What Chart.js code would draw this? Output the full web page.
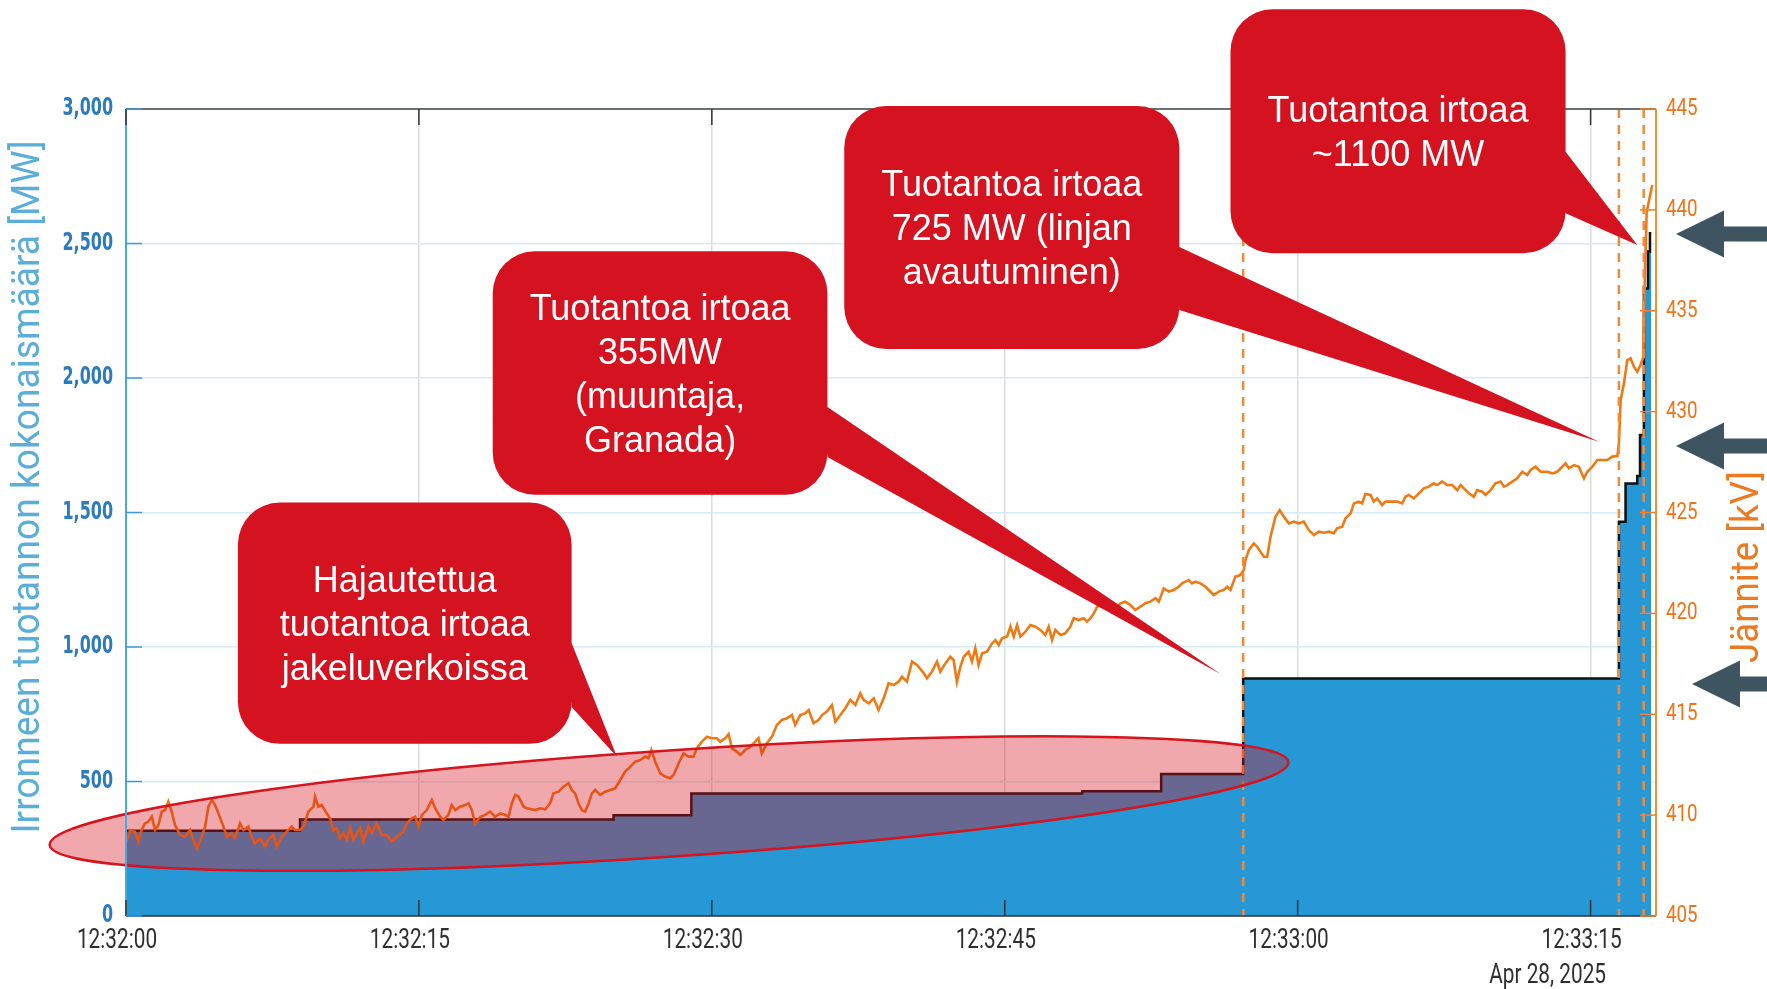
<!DOCTYPE html>
<html>
<head>
<meta charset="utf-8">
<script src="https://cdn.jsdelivr.net/npm/chart.js@4.4.1/dist/chart.umd.min.js"></script>
<style>
html, body { margin: 0; padding: 0; background: #fff; }
#wrap { width: 1767px; height: 989px; position: relative; }
</style>
</head>
<body>
<div id="wrap"><canvas id="c"></canvas></div>
<script>
// seconds after 12:32:00
const xTicks = [0, 15, 30, 45, 60, 75]
const dateLabel = 'Apr 28, 2025'

// total disconnected generation (MW), value holds from each time onwards
const stepTimes = [0, 8.91, 24.97, 28.95, 48.97, 53.01, 57.21, 76.45, 76.79, 77.39, 77.53, 77.73, 77.94, 78.04, 78.11]
const stepMW = [317, 359, 375, 455, 464, 528, 883, 1466, 1608, 1636, 1788, 2333, 2470, 2538, 2538]

// 400 kV voltage (kV)
const voltTimes = [
  0.03, 0.21, 0.46, 0.63, 0.80, 0.97, 1.15, 1.32, 1.49, 1.66, 1.83, 2.00, 2.17, 2.34, 2.51, 2.77, 3.02, 3.28, 3.45, 3.62,
  3.88, 4.05, 4.22, 4.39, 4.56, 4.73, 4.99, 5.16, 5.41, 5.58, 5.84, 6.01, 6.27, 6.44, 6.61, 6.87, 7.12, 7.29, 7.55, 7.72,
  7.98, 8.23, 8.49, 8.66, 8.91, 9.09, 9.34, 9.60, 9.68, 9.85, 10.02, 10.28, 10.45, 10.62, 10.79, 10.96, 11.13, 11.31, 11.48, 11.65,
  11.82, 11.99, 12.16, 12.42, 12.59, 12.84, 13.10, 13.35, 13.61, 13.87, 14.21, 14.38, 14.64, 14.81, 14.98, 15.15, 15.40, 15.66, 15.83, 16.09,
  16.26, 16.51, 16.68, 16.86, 17.11, 17.37, 17.54, 17.71, 17.88, 18.14, 18.39, 18.65, 18.90, 19.16, 19.42, 19.59, 19.76, 19.93, 20.10, 20.36,
  20.53, 20.95, 21.21, 21.47, 21.72, 21.89, 22.15, 22.40, 22.66, 22.83, 23.00, 23.17, 23.34, 23.51, 23.69, 23.86, 24.03, 24.28, 24.54, 24.80,
  25.05, 25.31, 25.56, 25.82, 26.08, 26.33, 26.59, 26.76, 26.90, 27.10, 27.36, 27.61, 27.87, 28.04, 28.30, 28.55, 28.81, 29.06, 29.23, 29.49,
  29.75, 30.00, 30.26, 30.43, 30.69, 30.86, 31.03, 31.28, 31.45, 31.71, 31.97, 32.22, 32.39, 32.56, 32.82, 33.08, 33.33, 33.59, 33.85, 34.10,
  34.27, 34.53, 34.79, 34.96, 35.21, 35.47, 35.64, 35.89, 36.15, 36.32, 36.58, 36.83, 37.09, 37.35, 37.60, 37.77, 38.03, 38.29, 38.54, 38.80,
  39.05, 39.31, 39.57, 39.74, 39.99, 40.25, 40.51, 40.85, 41.02, 41.27, 41.53, 41.70, 41.96, 42.21, 42.38, 42.55, 42.73, 42.90, 43.15, 43.32,
  43.49, 43.66, 43.84, 44.09, 44.35, 44.52, 44.69, 44.86, 45.12, 45.29, 45.46, 45.63, 45.80, 46.06, 46.31, 46.57, 46.82, 47.08, 47.25, 47.42,
  47.59, 47.85, 48.10, 48.36, 48.53, 48.79, 49.04, 49.21, 49.39, 49.56, 49.73, 49.98, 50.15, 50.41, 50.67, 50.92, 51.18, 51.43, 51.69, 51.95,
  52.20, 52.46, 52.72, 52.89, 53.14, 53.40, 53.65, 53.91, 54.08, 54.25, 54.42, 54.59, 54.76, 55.02, 55.28, 55.45, 55.70, 55.96, 56.22, 56.39,
  56.56, 56.81, 57.07, 57.24, 57.33, 57.50, 57.75, 57.92, 58.09, 58.27, 58.44, 58.61, 58.86, 59.08, 59.29, 59.55, 59.80, 60.06, 60.31, 60.57,
  60.83, 61.08, 61.34, 61.60, 61.85, 62.02, 62.28, 62.45, 62.71, 62.88, 63.13, 63.30, 63.47, 63.73, 63.90, 64.07, 64.33, 64.50, 64.75, 65.10,
  65.35, 65.52, 65.69, 65.95, 66.21, 66.46, 66.72, 66.97, 67.14, 67.40, 67.66, 67.91, 68.17, 68.34, 68.51, 68.77, 69.02, 69.19, 69.45, 69.62,
  69.88, 70.13, 70.39, 70.56, 70.73, 70.99, 71.24, 71.50, 71.76, 71.93, 72.18, 72.44, 72.78, 73.04, 73.29, 73.55, 73.72, 73.89, 74.15, 74.40,
  74.66, 74.83, 75.09, 75.34, 75.60, 75.85, 76.11, 76.37, 76.45, 76.54, 76.71, 76.88, 77.05, 77.22, 77.39, 77.56, 77.70, 77.77, 77.87, 77.95,
  78.16
]
const voltKV = [
  408.69, 409.26, 409.18, 408.69, 409.26, 409.59, 409.68, 409.92, 409.26, 409.51, 410.17, 410.25, 410.67, 410.17, 409.51, 409.02, 408.93, 409.26, 408.77, 408.35,
  408.93, 409.43, 410.42, 410.75, 410.50, 410.09, 409.43, 408.93, 409.10, 408.85, 409.59, 409.26, 409.43, 408.93, 408.60, 408.85, 408.44, 408.77, 409.02, 408.44,
  408.93, 409.18, 409.43, 409.26, 409.26, 409.43, 410.17, 410.42, 410.92, 410.42, 410.50, 410.09, 409.84, 409.26, 409.35, 408.85, 409.10, 408.77, 409.35, 408.77,
  409.10, 409.35, 408.69, 409.43, 409.10, 409.59, 409.02, 409.02, 408.69, 408.93, 409.18, 409.59, 409.84, 409.92, 409.43, 410.01, 410.25, 410.75, 410.34, 409.92,
  409.76, 410.01, 410.50, 410.25, 410.42, 410.50, 410.59, 410.25, 409.59, 409.92, 410.01, 410.17, 409.92, 410.09, 410.01, 409.92, 410.59, 411.00, 410.92, 410.42,
  410.34, 410.25, 410.34, 410.29, 410.59, 411.08, 411.16, 411.41, 411.58, 411.25, 411.08, 410.59, 410.25, 410.17, 410.59, 411.08, 411.25, 411.00, 411.16, 411.25,
  411.33, 411.74, 412.16, 412.40, 412.65, 412.73, 412.90, 412.82, 413.23, 412.65, 412.07, 411.91, 411.83, 411.99, 412.57, 413.06, 412.90, 412.90, 413.31, 413.64,
  413.89, 413.81, 413.81, 413.64, 413.81, 414.01, 413.31, 413.15, 412.98, 413.23, 413.39, 413.64, 413.81, 413.06, 413.56, 413.89, 414.47, 414.72, 414.80, 414.96,
  414.47, 414.96, 415.05, 415.21, 414.55, 414.72, 414.96, 415.13, 415.46, 414.63, 414.96, 415.29, 415.71, 415.46, 416.04, 415.71, 415.54, 415.79, 415.21, 415.79,
  416.53, 416.45, 416.62, 416.86, 416.62, 417.61, 417.44, 417.03, 416.78, 417.11, 417.61, 417.11, 417.52, 417.85, 417.69, 416.61, 417.36, 417.85, 418.10, 417.61,
  418.27, 417.44, 418.02, 418.10, 418.51, 418.68, 418.43, 418.76, 418.85, 419.34, 418.85, 419.42, 418.85, 419.09, 419.42, 419.34, 419.18, 418.93, 419.34, 418.68,
  419.18, 418.93, 419.01, 419.34, 419.76, 419.67, 419.76, 419.59, 419.76, 420.00, 420.33, 420.50, 420.33, 420.41, 420.25, 420.50, 420.58, 420.41, 420.17, 420.33,
  420.50, 420.58, 420.75, 420.58, 421.24, 421.08, 421.16, 421.32, 421.49, 421.57, 421.65, 421.49, 421.57, 421.49, 421.32, 421.16, 420.91, 421.08, 421.16, 421.32,
  421.16, 421.82, 421.90, 422.15, 422.65, 423.14, 423.47, 423.31, 423.06, 422.81, 422.81, 423.80, 424.79, 425.12, 424.79, 424.46, 424.55, 424.46, 424.55, 424.13,
  423.88, 424.05, 424.00, 424.05, 423.97, 424.22, 424.30, 424.71, 424.96, 425.45, 425.54, 425.45, 425.92, 425.87, 425.54, 425.70, 425.37, 425.54, 425.54, 425.54,
  425.45, 425.78, 425.87, 425.70, 425.95, 426.20, 426.28, 426.45, 426.36, 426.53, 426.36, 426.36, 426.11, 426.36, 426.20, 425.95, 425.78, 426.11, 426.03, 425.87,
  426.11, 426.45, 426.53, 426.28, 426.36, 426.53, 426.69, 427.02, 426.86, 427.11, 427.27, 427.02, 427.02, 426.94, 427.02, 427.27, 427.44, 427.19, 427.35, 427.27,
  426.69, 427.02, 427.27, 427.60, 427.60, 427.60, 427.77, 427.80, 428.43, 430.58, 431.40, 432.55, 432.64, 432.23, 431.98, 432.31, 432.70, 436.19, 439.85, 440.26,
  441.23
]

// dashed event markers (s)
const eventTimes = [57.21, 76.45, 77.72]
// arrow levels on the voltage axis (kV)
const arrowKV = [438.8, 428.3, 416.5]

// annotations in data units: x = s, y = MW
const callouts = [
  { lines: ['Hajautettua', 'tuotantoa irtoaa', 'jakeluverkoissa'],
    box: [5.73, 1537, 22.82, 640], tail: [[22.82, 1015], [22.82, 777], [25.14, 592]] },
  { lines: ['Tuotantoa irtoaa', '355MW', '(muuntaja,', 'Granada)'],
    box: [18.78, 2471, 35.92, 1566], tail: [[35.92, 1892], [35.92, 1706], [56.05, 900]] },
  { lines: ['Tuotantoa irtoaa', '725 MW (linjan', 'avautuminen)'],
    box: [36.78, 3011, 53.94, 2108], tail: [[53.94, 2487], [53.94, 2253], [75.43, 1763]] },
  { lines: ['Tuotantoa irtoaa', '~1100 MW'],
    box: [56.56, 3371, 73.72, 2464], tail: [[73.72, 2841], [73.72, 2612], [77.39, 2494]] }
]
const ellipse = { from: [-3.91, 264], to: [59.53, 572], halfWidth: 197 }

const narrow = "'DejaVu Sans Condensed', sans-serif"
const pad2 = n => String(n).padStart(2, '0')
const fmtTime = v => `12:${32 + Math.floor(v / 60)}:${pad2(v % 60)}`

// condensed text: draw with a horizontal squeeze
function squeezed(ctx, text, x, y, align, font, color, sx) {
  ctx.save()
  ctx.font = font
  ctx.fillStyle = color
  ctx.textAlign = align
  ctx.textBaseline = 'middle'
  ctx.translate(x, y)
  ctx.scale(sx, 1)
  ctx.fillText(text, 0, 0)
  ctx.restore()
}

function fitText(ctx, text, cx, cy, len, font, color) {
  ctx.save()
  ctx.font = font
  ctx.fillStyle = color
  ctx.textAlign = 'center'
  ctx.textBaseline = 'middle'
  const w = ctx.measureText(text).width
  ctx.translate(cx, cy)
  ctx.rotate(-Math.PI / 2)
  ctx.scale(len / w, 1)
  ctx.fillText(text, 0, 0)
  ctx.restore()
}

function roundRect(ctx, x0, y0, x1, y1, r) {
  ctx.moveTo(x0 + r, y0)
  ctx.arcTo(x1, y0, x1, y1, r)
  ctx.arcTo(x1, y1, x0, y1, r)
  ctx.arcTo(x0, y1, x0, y0, r)
  ctx.arcTo(x0, y0, x1, y0, r)
  ctx.closePath()
}

const overlay = {
  id: 'overlay',
  afterDatasetsDraw(chart) {
    const {ctx, chartArea: a, scales: {x, y, y1}} = chart
    const px = p => [x.getPixelForValue(p[0]), y.getPixelForValue(p[1])]

    ctx.save()
    // event lines
    ctx.strokeStyle = '#f28a3c'
    ctx.lineWidth = 2.5
    ctx.setLineDash([9, 7])
    eventTimes.forEach(t => {
      const xp = x.getPixelForValue(t)
      ctx.beginPath(); ctx.moveTo(xp, a.top); ctx.lineTo(xp, a.bottom); ctx.stroke()
    })
    ctx.setLineDash([])

    // highlight ellipse
    const [ax, ay] = px(ellipse.from), [bx, by] = px(ellipse.to)
    const rb = y.getPixelForValue(0) - y.getPixelForValue(ellipse.halfWidth)
    ctx.beginPath()
    ctx.ellipse((ax + bx) / 2, (ay + by) / 2, Math.hypot(bx - ax, by - ay) / 2, rb, Math.atan2(by - ay, bx - ax), 0, Math.PI * 2)
    ctx.fillStyle = 'rgba(215, 20, 30, 0.37)'
    ctx.fill()
    ctx.strokeStyle = '#d5141e'
    ctx.lineWidth = 2.5
    ctx.stroke()

    // frame
    const line = (x0, y0, x1, y1_, c, w) => {
      ctx.beginPath(); ctx.strokeStyle = c; ctx.lineWidth = w
      ctx.moveTo(x0, y0); ctx.lineTo(x1, y1_); ctx.stroke()
    }
    line(a.left, a.top, a.right, a.top, '#444', 1.5)
    line(a.left, a.bottom, a.right, a.bottom, '#333', 1.5)
    line(a.left, a.top, a.left, a.bottom, '#4aa8e0', 2)
    line(a.right, a.top, a.right, a.bottom, '#f3902e', 2)
    // inner ticks and labels
    const timeFont = "27px Roboto, sans-serif"
    xTicks.forEach(v => {
      const xp = x.getPixelForValue(v)
      line(xp, a.bottom, xp, a.bottom - 16, '#333', 1.5)
      line(xp, a.top, xp, a.top + 16, '#333', 1.5)
      squeezed(ctx, fmtTime(v), xp - 9, a.bottom + 25, 'center', timeFont, '#2f2f2f', 0.77)
    })
    y.ticks.forEach(t => {
      const yp = y.getPixelForValue(t.value)
      line(a.left, yp, a.left + 16, yp, '#3a9ad9', 1.5)
      squeezed(ctx, t.value.toLocaleString('en-US'), a.left - 13, yp, 'right', `bold 24px ${narrow}`, '#2b7bbd', 0.74)
    })
    y1.ticks.forEach(t => {
      const yp = y1.getPixelForValue(t.value)
      line(a.right - 16, yp, a.right, yp, '#f08030', 1.5)
      squeezed(ctx, String(t.value), a.right + 10, yp, 'left', "24px Roboto, sans-serif", '#ee7417', 0.78)
    })
    squeezed(ctx, dateLabel, x.getPixelForValue(72.8), a.bottom + 60, 'center', timeFont, '#2f2f2f', 0.77)

    // callouts
    callouts.forEach(c => {
      const [x0, y0] = px([c.box[0], c.box[1]]), [x1, y1p] = px([c.box[2], c.box[3]])
      ctx.beginPath()
      roundRect(ctx, x0, y0, x1, y1p, 42)
      const t = c.tail.map(px)
      ctx.moveTo(t[0][0], t[0][1]); ctx.lineTo(t[2][0], t[2][1]); ctx.lineTo(t[1][0], t[1][1]); ctx.closePath()
      ctx.fillStyle = '#d51220'
      ctx.fill('nonzero')
      ctx.fillStyle = '#fff'
      ctx.font = "36px 'Liberation Sans', Arial, sans-serif"
      ctx.textAlign = 'center'
      ctx.textBaseline = 'alphabetic'
      const cx = (x0 + x1) / 2, cy = (y0 + y1p) / 2
      c.lines.forEach((s, i) => ctx.fillText(s, cx, cy - (c.lines.length - 1) * 22 + i * 44 + 13))
    })

    // arrows at the right
    ctx.fillStyle = '#3e5561'
    arrowKV.forEach((v, i) => {
      const yp = y1.getPixelForValue(v)
      const tip = a.right + (i === 2 ? 36 : 20)
      const back = tip + 48
      ctx.beginPath()
      ctx.moveTo(tip, yp)
      ctx.lineTo(back, yp - 23.5); ctx.lineTo(back, yp - 7.5)
      ctx.lineTo(chart.width, yp - 7.5); ctx.lineTo(chart.width, yp + 7.5)
      ctx.lineTo(back, yp + 7.5); ctx.lineTo(back, yp + 23.5)
      ctx.closePath(); ctx.fill()
    })

    // axis titles
    fitText(ctx, 'Irronneen tuotannon kokonaismäärä [MW]', 29, 487, 693, "38px Roboto, sans-serif", '#5aaed8')
    fitText(ctx, 'Jännite [kV]', 1748, 567, 192, "39px Roboto, sans-serif", '#ec7a22')
    ctx.restore()
  }
}

new Chart(document.getElementById('c'), {
  type: 'line',
  data: {
    datasets: [
      {
        label: 'Jännite',
        data: voltTimes.map((t, i) => ({x: t, y: voltKV[i]})),
        yAxisID: 'y1',
        borderColor: '#ef7a14',
        borderWidth: 2.6,
        pointRadius: 0,
        tension: 0,
        order: 0
      },
      {
        label: 'Irronnut tuotanto',
        data: stepTimes.map((t, i) => ({x: t, y: stepMW[i]})),
        yAxisID: 'y',
        stepped: 'before',
        fill: 'origin',
        backgroundColor: '#2698d6',
        borderColor: '#111',
        borderWidth: 2.5,
        pointRadius: 0,
        order: 1
      }
    ]
  },
  options: {
    responsive: true,
    maintainAspectRatio: false,
    animation: false,
    layout: { padding: { top: 109, left: 0, right: 0, bottom: 0 } },
    plugins: { legend: { display: false }, tooltip: { enabled: false } },
    scales: {
      x: {
        type: 'linear',
        min: 0,
        max: 78.35,
        afterFit: s => { s.height = 73 },
        afterBuildTicks: s => { s.ticks = xTicks.map(v => ({value: v})) },
        grid: { color: '#dcdcdc', lineWidth: 1.5, drawTicks: false },
        border: { display: false },
        ticks: { display: false }
      },
      y: {
        position: 'left',
        min: 0,
        max: 3000,
        afterFit: s => { s.width = 126 },
        grid: { color: '#d6ebf7', lineWidth: 1.5, drawTicks: false },
        border: { display: false },
        ticks: { stepSize: 500, display: false }
      },
      y1: {
        position: 'right',
        min: 405,
        max: 445,
        afterFit: s => { s.width = 111 },
        grid: { drawOnChartArea: false, drawTicks: false },
        border: { display: false },
        ticks: { stepSize: 5, display: false }
      }
    }
  },
  plugins: [overlay]
})
</script>
</body>
</html>
